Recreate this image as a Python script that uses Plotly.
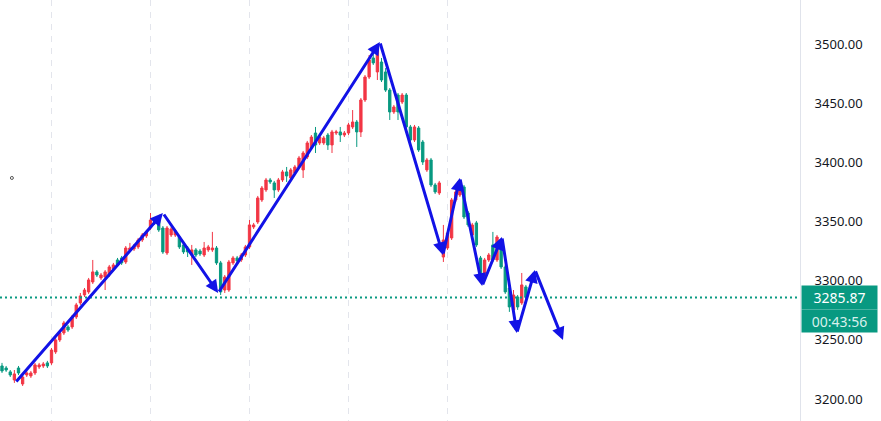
import plotly.graph_objects as go

# ---- candle data (index = bar number) ----
opens = [3227.9,3226.2,3222.9,3216.1,3226.2,3212.7,3220.3,3219.5,3222.0,3227.1,
         3227.9,3230.5,3230.5,3239.8,3249.9,3255.8,3260.9,3260.9,3269.3,3281.2,
         3287.9,3290.5,3298.9,3307.4,3302.3,3303.1,3304.8,3309.9,3317.5,3319.2,
         3315.8,3326.0,3326.8,3328.5,3334.4,3337.8,3344.5,3351.3,3350.5,3344.5,
         3323.4,3338.6,3338.6,3336.9,3330.2,3327.6,3321.7,3326.0,3325.1,3321.7,
         3326.0,3326.0,3327.6,3315.0,3292.1,3292.1,3315.0,3319.2,3317.5,3321.7,
         3328.5,3345.4,3349.6,3368.2,3376.7,3385.1,3382.6,3376.7,3385.1,3391.9,
         3386.8,3391.0,3396.1,3393.6,3404.5,3412.1,3424.8,3416.4,3416.4,3423.1,
         3414.7,3424.8,3425.7,3423.1,3424.8,3429.9,3434.1,3425.7,3452.7,3472.1,
         3488.2,3476.4,3484.8,3476.4,3461.1,3442.6,3456.9,3451.0,3456.9,3429.9,
         3418.9,3429.0,3417.2,3393.6,3402.0,3380.9,3374.1,3320.0,3327.6,3336.1,
         3368.2,3372.4,3379.2,3357.2,3338.6,3348.8,3319.2,3303.1,3317.5,3330.2,
         3317.5,3330.2,3311.6,3293.8,3275.3,3286.2,3281.2,3294.7]
closes = [3223.7,3224.5,3220.3,3221.2,3222.0,3218.6,3222.0,3222.0,3228.8,3228.8,
          3229.6,3227.9,3241.4,3249.9,3255.8,3264.3,3258.3,3269.3,3279.5,3287.1,
          3292.1,3300.6,3307.4,3304.8,3304.8,3307.4,3311.6,3313.3,3313.3,3315.0,
          3327.6,3327.6,3329.3,3334.4,3338.6,3341.2,3351.3,3348.8,3342.9,3324.3,
          3344.5,3343.7,3342.0,3328.5,3324.3,3324.3,3326.0,3321.7,3322.6,3327.6,
          3328.5,3327.6,3315.0,3290.5,3303.1,3315.8,3319.2,3316.7,3321.7,3328.5,
          3347.1,3347.1,3369.9,3378.3,3385.1,3383.4,3376.7,3385.1,3391.9,3388.5,
          3393.6,3396.1,3403.7,3407.9,3416.4,3421.4,3414.7,3421.4,3420.6,3414.7,
          3425.7,3425.7,3423.1,3424.8,3431.6,3434.1,3425.7,3452.7,3472.1,3486.5,
          3484.0,3494.9,3469.6,3461.1,3442.6,3446.8,3442.6,3456.9,3429.9,3418.9,
          3429.9,3410.5,3400.3,3402.0,3380.9,3375.0,3382.6,3334.4,3340.3,3368.2,
          3375.0,3379.2,3353.8,3347.1,3347.1,3330.2,3303.1,3317.5,3321.7,3317.5,
          3336.9,3311.6,3290.5,3277.8,3287.9,3277.8,3296.4,3285.87]
highs = [3230.5,3227.9,3224.5,3224.5,3227.9,3220.3,3223.7,3223.7,3230.5,3230.5,
         3231.3,3232.2,3243.1,3251.6,3257.5,3266.0,3262.6,3271.0,3281.2,3289.6,
         3293.8,3302.3,3317.5,3309.0,3306.5,3309.0,3313.3,3315.0,3319.2,3320.9,
         3329.3,3331.9,3331.0,3336.1,3340.3,3342.9,3357.2,3353.0,3352.1,3346.2,
         3346.2,3345.4,3343.7,3338.6,3331.9,3329.3,3330.2,3327.6,3326.8,3332.7,
         3330.2,3341.2,3329.3,3316.7,3304.8,3317.5,3320.9,3320.9,3323.4,3330.2,
         3351.3,3348.8,3371.6,3380.0,3386.8,3386.8,3384.3,3386.8,3393.6,3396.1,
         3395.2,3397.8,3405.4,3409.6,3418.1,3423.1,3429.9,3423.1,3422.3,3424.8,
         3427.4,3427.4,3429.9,3426.5,3433.3,3444.2,3435.8,3454.4,3473.8,3490.7,
         3493.3,3499.2,3488.2,3479.7,3462.8,3448.5,3458.6,3458.6,3458.6,3431.6,
         3431.6,3430.7,3418.9,3403.7,3403.7,3382.6,3384.3,3347.1,3342.0,3369.9,
         3376.7,3382.6,3380.9,3358.9,3348.8,3350.5,3320.9,3319.2,3323.4,3341.2,
         3338.6,3331.9,3313.3,3295.5,3292.1,3287.9,3306.5,3296.4]
lows = [3222.0,3222.9,3218.6,3213.6,3220.3,3211.0,3218.6,3217.8,3220.3,3225.4,
        3226.2,3226.2,3228.8,3238.1,3248.2,3254.1,3256.7,3259.2,3267.6,3279.5,
        3286.2,3288.8,3297.2,3303.1,3300.6,3292.1,3303.1,3308.2,3311.6,3313.3,
        3314.1,3324.3,3325.1,3326.8,3332.7,3336.1,3342.9,3347.1,3341.2,3322.6,
        3321.7,3336.9,3336.9,3326.8,3322.6,3320.0,3313.3,3320.0,3320.9,3320.0,
        3324.3,3324.3,3313.3,3287.9,3289.6,3290.5,3313.3,3315.0,3315.8,3320.0,
        3326.8,3343.7,3347.9,3366.5,3375.0,3381.7,3369.9,3375.0,3383.4,3383.4,
        3385.1,3389.3,3394.4,3386.8,3402.8,3410.5,3407.9,3414.7,3414.7,3410.5,
        3407.9,3423.1,3417.2,3421.4,3423.1,3428.2,3413.0,3421.4,3451.0,3470.4,
        3482.3,3469.6,3467.9,3459.5,3435.8,3440.9,3435.8,3449.3,3428.2,3417.2,
        3417.2,3408.8,3397.8,3391.9,3379.2,3373.3,3372.4,3315.8,3326.0,3334.4,
        3366.5,3370.7,3352.1,3345.4,3336.9,3328.5,3298.9,3301.4,3315.8,3315.8,
        3315.8,3309.9,3288.8,3273.6,3273.6,3275.3,3279.5,3284.5]
bars = list(range(len(closes)))

# ---- hand-drawn zigzag (bar index, price) ----
zig_bar = [3.15, 39.0, 52.4, 91.6, 106.9, 111.0, 116.4, 121.2, 124.8, 129.2, 136.0]
zig_price = [3213.6, 3357.2, 3289.6, 3501.7, 3321.7, 3386.8, 3295.5, 3336.9, 3255.8, 3309.1, 3249.9]

# ---- axis ----
y_ticks = [3200, 3250, 3300, 3350, 3400, 3450, 3500]
grid_bars = [12, 36, 60, 84, 108]
last_price = 3285.87
countdown = "00:43:56"
stray_bar = [2.4]
stray_price = [3386.8]

UP = "#f23645"
DOWN = "#089981"
BLUE = "#1212e6"

fig = go.Figure()
fig.add_trace(go.Candlestick(
    x=bars, open=opens, high=highs, low=lows, close=closes,
    increasing=dict(line=dict(color=UP, width=1), fillcolor=UP),
    decreasing=dict(line=dict(color=DOWN, width=1), fillcolor=DOWN),
    whiskerwidth=0, showlegend=False, hoverinfo="skip",
))
fig.add_trace(go.Scatter(
    x=stray_bar, y=stray_price, mode="markers",
    marker=dict(size=3, color="white", line=dict(color="#555", width=1)),
    showlegend=False, hoverinfo="skip",
))

for i in range(1, len(zig_bar)):
    fig.add_annotation(
        x=zig_bar[i], y=zig_price[i], ax=zig_bar[i - 1], ay=zig_price[i - 1],
        xref="x", yref="y", axref="x", ayref="y", text="",
        showarrow=True, arrowhead=2, arrowsize=0.85, arrowwidth=3,
        arrowcolor=BLUE, standoff=0, startstandoff=0,
    )

fig.add_shape(type="line", xref="paper", x0=0, x1=1, yref="y",
              y0=last_price, y1=last_price,
              line=dict(color=DOWN, width=2, dash="2px,3px"))

fig.add_annotation(xref="paper", x=1, xanchor="left", xshift=1,
                   yref="y", y=last_price, yanchor="middle",
                   text=f"{last_price:.2f}", showarrow=False,
                   bgcolor=DOWN, width=73, height=21, borderpad=1,
                   font=dict(family="Noto Sans", size=14, color="white"))
fig.add_annotation(xref="paper", x=1, xanchor="left", xshift=1,
                   yref="y", y=last_price, yanchor="middle", yshift=-24,
                   text=countdown, showarrow=False,
                   bgcolor=DOWN, width=73, height=20, borderpad=1,
                   font=dict(family="Noto Sans", size=14, color="#d8f0ec"))

fig.update_layout(
    width=881, height=421,
    margin=dict(l=0, r=81, t=0, b=0),
    paper_bgcolor="white", plot_bgcolor="white",
    boxgap=0.2,
    xaxis=dict(range=[-0.485, 193.45], rangeslider=dict(visible=False),
               tickvals=grid_bars, showticklabels=False, ticks="",
               showgrid=True, gridcolor="#e3e5ec", griddash="6px,6px",
               gridwidth=1, zeroline=False, showline=False, fixedrange=True),
    yaxis=dict(side="right", range=[3181.4, 3537.2], tickvals=y_ticks,
               tickformat=".2f", showgrid=False, zeroline=False,
               showline=True, linecolor="#e0e3eb", linewidth=1,
               ticks="", ticklabelstandoff=11,
               tickfont=dict(family="Noto Sans", size=13, color="#131722")),
)

fig.write_html("out.html", config={"displayModeBar": False},
               post_script="document.body.style.margin='0';document.body.style.overflow='hidden';")
